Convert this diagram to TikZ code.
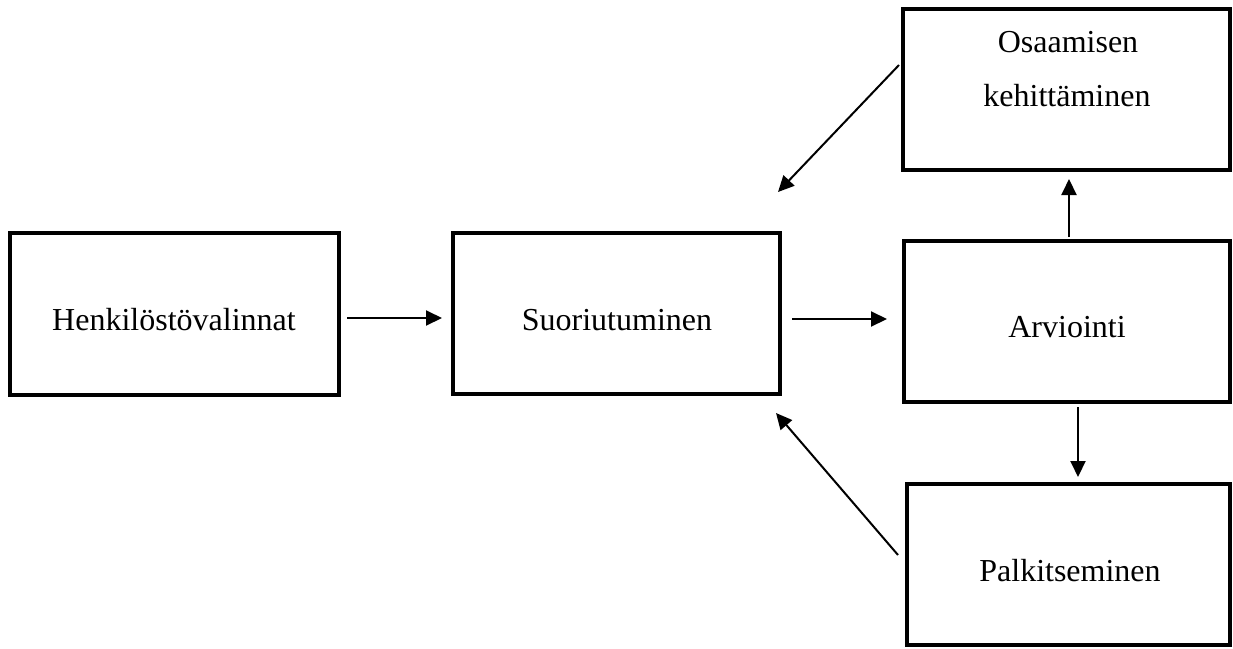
\documentclass[tikz,border=0pt]{standalone}
\usepackage{fontspec}
\setmainfont{Liberation Serif}
\usetikzlibrary{arrows.meta,calc}

\begin{document}
\begin{tikzpicture}[x=1pt,y=-1pt,
  stage/.style={draw=black,line width=4pt,rectangle,minimum width=#1,minimum height=161pt,inner sep=0pt,outer sep=0pt},
  stage/.default=327pt,
  lbl/.style={anchor=base,font=\fontsize{32}{54}\selectfont,inner sep=0pt,align=center},
  flow/.style={line width=2pt,-{Triangle[length=16pt,width=15pt]}}]
  \useasboundingbox (0,0) rectangle (1233,648);

  % process boxes
  \node[stage=329pt,minimum height=162pt] (henk) at (174,314) {};
  \node[stage=327pt] (suor) at (616.5,313.5) {};
  \node[stage=326pt] (arv)  at (1067,321.5) {};
  \node[stage=327pt] (osa)  at (1066.5,89.5) {};
  \node[stage=323pt] (palk) at (1068.5,564.5) {};

  % box texts
  \node[lbl] (henkt) at (174,330) {Henkilöstövalinnat};
  \node[lbl] (suort) at (617,330) {Suoriutuminen};
  \node[lbl] (arvt)  at (1067,337) {Arviointi};
  \node[lbl] (osat1) at (1068,52) {Osaamisen};
  \node[lbl] (osat2) at (1067,106) {kehittäminen};
  \node[lbl] (palkt) at (1070,581) {Palkitseminen};

  % connectors
  \draw[flow] ($(henk.east)+(8.5,4)$) -- ($(suor.west)+(-11,4.5)$);
  \draw[flow] ($(suor.east)+(12,5.5)$) -- ($(arv.west)+(-17,-2.5)$);
  \draw[flow] ($(arv.north)+(2,-4)$) -- ($(osa.south)+(2.5,9)$);
  \draw[flow] ($(arv.south)+(11,5)$) -- ($(palk.north)+(9.5,-7)$);
  \draw[flow] ($(osa.west)+(-4,-24.5)$) -- ($(suor.north east)+(-2,-41)$);
  \draw[flow] ($(palk.west)+(-9,-9.5)$) -- ($(suor.south east)+(-4,19)$);
\end{tikzpicture}
\end{document}
